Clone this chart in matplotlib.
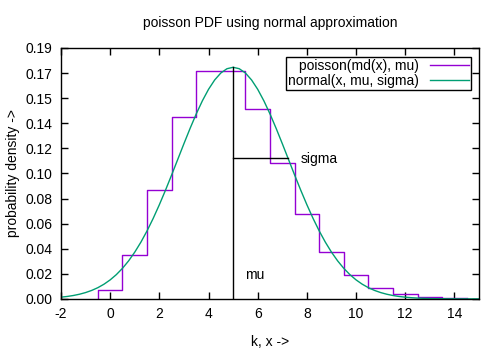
import matplotlib
matplotlib.use("Agg")
import matplotlib.pyplot as plt
import numpy as np

plt.rcParams['font.family'] = ['Liberation Sans', 'DejaVu Sans']

k_values = list(range(15))
poisson_values = [0.0067, 0.0337, 0.0842, 0.1404, 0.1755, 0.1755, 0.1462, 0.1044,
                  0.0653, 0.0363, 0.0181, 0.0082, 0.0034, 0.0013, 0.0005]

# normal curve, x = -2 .. 15 every 0.25
normal_x = [-2 + 0.25 * i for i in range(69)]
normal_values = [
    0.00133, 0.00187, 0.00261, 0.00359, 0.00488, 0.00654, 0.00866, 0.01134,
    0.01465, 0.01869, 0.02355, 0.02931, 0.03602, 0.04373, 0.05241, 0.06205,
    0.07254, 0.08375, 0.09550, 0.10754, 0.11959, 0.13134, 0.14246, 0.15260,
    0.16143, 0.16865, 0.17401, 0.17730, 0.17841, 0.17730, 0.17401, 0.16865,
    0.16143, 0.15260, 0.14246, 0.13134, 0.11959, 0.10754, 0.09550, 0.08375,
    0.07254, 0.06205, 0.05241, 0.04373, 0.03602, 0.02931, 0.02355, 0.01869,
    0.01465, 0.01134, 0.00866, 0.00654, 0.00488, 0.00359, 0.00261, 0.00187,
    0.00133, 0.00093, 0.00064, 0.00044, 0.00030, 0.00020, 0.00013, 0.00008,
    0.00005, 0.00003, 0.00002, 0.00001, 0.00001,
]

mu = 5.0
sigma = 2.236
peak = 0.1784        # normal(mu)
sigma_level = 0.1082  # normal(mu + sigma)

y_max = 0.1933
y_ticks = [y_max * i / 10 for i in range(11)]
x_ticks = list(range(-2, 15, 2))

fs = 10

fig = plt.figure(figsize=(5, 3.5), dpi=100)
ax = fig.add_axes([0.122, 0.146, 0.836, 0.717])

# steps: vertical at the left edge, open at the right
edges = [k - 0.5 for k in k_values] + [k_values[-1] + 0.5]
step_x = [edges[0]] + edges
step_y = [0.0] + poisson_values + [poisson_values[-1]]
ax.step(step_x, step_y, where='post', color='#9400D3', lw=1.0,
        label='poisson(md(x), mu)')
ax.plot(normal_x, normal_values, color='#009E73', lw=1.0,
        label='normal(x, mu, sigma)')

ax.plot([mu, mu], [0, peak], color='black', lw=1.0)
ax.plot([mu, mu + sigma], [sigma_level, sigma_level], color='black', lw=1.0)
ax.text(5.5, 0.0185, 'mu', fontsize=fs, va='center', ha='left')
ax.text(7.75, 0.1075, 'sigma', fontsize=fs, va='center', ha='left')

ax.set_xlim(-2, 15)
ax.set_ylim(0, y_max)
ax.set_xticks(x_ticks)
ax.set_xticklabels([str(x) for x in x_ticks])
ax.set_yticks(y_ticks)
ax.set_yticklabels(['%.2f' % y for y in y_ticks])
ax.tick_params(direction='in', length=5, width=1, top=True, right=True,
               labelsize=fs, pad=6)
for spine in ax.spines.values():
    spine.set_linewidth(1.0)

ax.set_title('poisson PDF using normal approximation', fontsize=fs, pad=15)
ax.set_xlabel('k, x ->', fontsize=fs, labelpad=10)
ax.set_ylabel('probability density ->', fontsize=fs, labelpad=4)

leg = ax.legend(loc='upper right', bbox_to_anchor=(0.988, 0.975), fontsize=fs,
                markerfirst=False, fancybox=False, framealpha=1,
                edgecolor='black', handlelength=2.8, borderpad=0.15,
                labelspacing=0.05, handletextpad=0.8, borderaxespad=0.2,
                alignment='right')
leg.get_frame().set_linewidth(1.0)

fig.savefig('out.png', dpi=100)
